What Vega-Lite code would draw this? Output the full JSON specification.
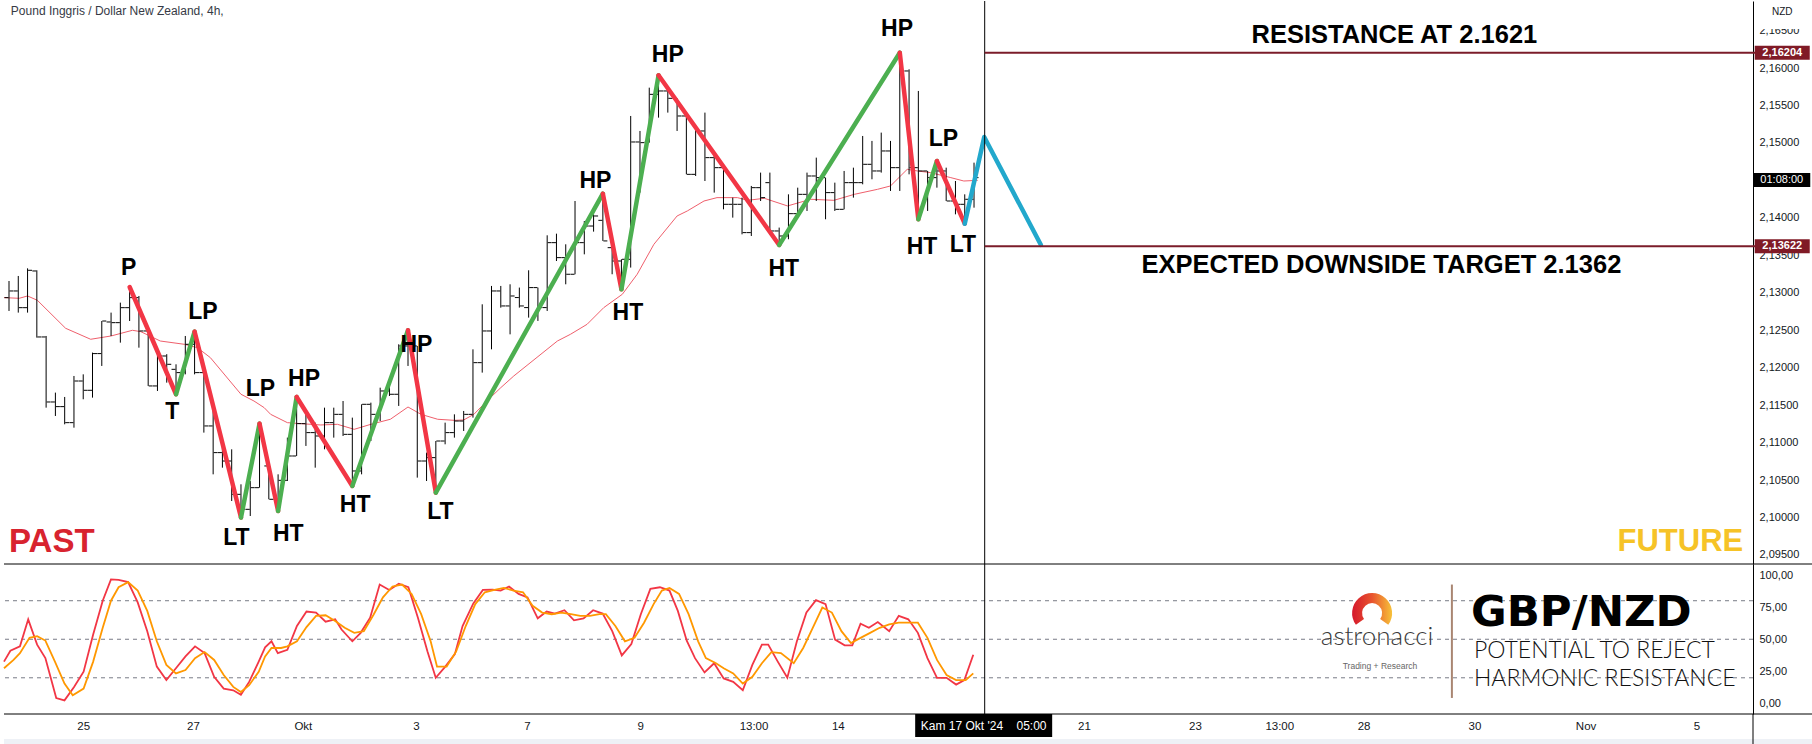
{
"$schema": "https://vega.github.io/schema/vega-lite/v6.json",
"background": "white",
"padding": 0,
"spacing": 0,
"bounds": "flush",
"config": {"view": {"stroke": null}, "font": "Liberation Sans"},
"datasets": {
"bars": [
{"i":0,"o":2.12935,"h":2.13157,"l":2.12757,"c":2.13024},
{"i":1,"o":2.13024,"h":2.13224,"l":2.12735,"c":2.12801},
{"i":2,"o":2.12801,"h":2.13326,"l":2.12735,"c":2.13300},
{"i":3,"o":2.13291,"h":2.13300,"l":2.12401,"c":2.12410},
{"i":4,"o":2.12410,"h":2.12423,"l":2.11466,"c":2.11542},
{"i":5,"o":2.11542,"h":2.11667,"l":2.11355,"c":2.11480},
{"i":6,"o":2.11480,"h":2.11609,"l":2.11244,"c":2.11266},
{"i":7,"o":2.11266,"h":2.11889,"l":2.11199,"c":2.11822},
{"i":8,"o":2.11822,"h":2.11911,"l":2.11578,"c":2.11698},
{"i":9,"o":2.11698,"h":2.12201,"l":2.11600,"c":2.12188},
{"i":10,"o":2.12188,"h":2.12623,"l":2.12023,"c":2.12623},
{"i":11,"o":2.12610,"h":2.12735,"l":2.12423,"c":2.12601},
{"i":12,"o":2.12601,"h":2.12868,"l":2.12334,"c":2.12801},
{"i":13,"o":2.12801,"h":2.13077,"l":2.12623,"c":2.12935},
{"i":14,"o":2.12935,"h":2.12957,"l":2.12267,"c":2.12490},
{"i":15,"o":2.12490,"h":2.12557,"l":2.11756,"c":2.11756},
{"i":16,"o":2.11756,"h":2.12179,"l":2.11689,"c":2.12156},
{"i":17,"o":2.12156,"h":2.12180,"l":2.11800,"c":2.12045},
{"i":18,"o":2.11978,"h":2.12045,"l":2.11645,"c":2.11934},
{"i":19,"o":2.11934,"h":2.12423,"l":2.11911,"c":2.12312},
{"i":20,"o":2.12312,"h":2.12481,"l":2.11911,"c":2.11934},
{"i":21,"o":2.11934,"h":2.11978,"l":2.11133,"c":2.11222},
{"i":22,"o":2.11222,"h":2.11422,"l":2.10576,"c":2.10866},
{"i":23,"o":2.10866,"h":2.11021,"l":2.10665,"c":2.10754},
{"i":24,"o":2.10754,"h":2.10910,"l":2.10220,"c":2.10309},
{"i":25,"o":2.10309,"h":2.10443,"l":2.10000,"c":2.10109},
{"i":26,"o":2.10109,"h":2.10487,"l":2.10020,"c":2.10398},
{"i":27,"o":2.10398,"h":2.11266,"l":2.10398,"c":2.11110},
{"i":28,"o":2.10688,"h":2.10710,"l":2.10243,"c":2.10243},
{"i":29,"o":2.10243,"h":2.10576,"l":2.10087,"c":2.10496},
{"i":30,"o":2.10496,"h":2.11066,"l":2.10487,"c":2.10821},
{"i":31,"o":2.10821,"h":2.11609,"l":2.10821,"c":2.11253},
{"i":32,"o":2.11253,"h":2.11444,"l":2.10955,"c":2.11133},
{"i":33,"o":2.11133,"h":2.11266,"l":2.10665,"c":2.11088},
{"i":34,"o":2.11088,"h":2.11466,"l":2.10910,"c":2.11266},
{"i":35,"o":2.11266,"h":2.11466,"l":2.11066,"c":2.11377},
{"i":36,"o":2.11377,"h":2.11555,"l":2.11088,"c":2.11110},
{"i":37,"o":2.11110,"h":2.11333,"l":2.10421,"c":2.10621},
{"i":38,"o":2.10621,"h":2.11511,"l":2.10576,"c":2.11511},
{"i":39,"o":2.11511,"h":2.11533,"l":2.11021,"c":2.11377},
{"i":40,"o":2.11377,"h":2.11733,"l":2.11288,"c":2.11689},
{"i":41,"o":2.11689,"h":2.11845,"l":2.11622,"c":2.11645},
{"i":42,"o":2.11645,"h":2.12312,"l":2.11489,"c":2.12290},
{"i":43,"o":2.12290,"h":2.12499,"l":2.12023,"c":2.12290},
{"i":44,"o":2.12290,"h":2.12290,"l":2.10532,"c":2.10754},
{"i":45,"o":2.10754,"h":2.10866,"l":2.10487,"c":2.10799},
{"i":46,"o":2.10799,"h":2.11021,"l":2.10332,"c":2.11021},
{"i":47,"o":2.11021,"h":2.11266,"l":2.10977,"c":2.11133},
{"i":48,"o":2.11133,"h":2.11377,"l":2.11066,"c":2.11288},
{"i":49,"o":2.11288,"h":2.11422,"l":2.11155,"c":2.11377},
{"i":50,"o":2.11377,"h":2.12245,"l":2.11333,"c":2.12067},
{"i":51,"o":2.12067,"h":2.12846,"l":2.11934,"c":2.12490},
{"i":52,"o":2.12490,"h":2.13091,"l":2.12245,"c":2.13024},
{"i":53,"o":2.13024,"h":2.13091,"l":2.12801,"c":2.12824},
{"i":54,"o":2.12824,"h":2.13113,"l":2.12445,"c":2.12957},
{"i":55,"o":2.12936,"h":2.13069,"l":2.12802,"c":2.12824},
{"i":56,"o":2.12802,"h":2.13300,"l":2.12668,"c":2.13069},
{"i":57,"o":2.13069,"h":2.13069,"l":2.12624,"c":2.12802},
{"i":58,"o":2.12802,"h":2.13767,"l":2.12757,"c":2.13669},
{"i":59,"o":2.13669,"h":2.13789,"l":2.13424,"c":2.13469},
{"i":60,"o":2.13469,"h":2.13647,"l":2.13113,"c":2.13247},
{"i":61,"o":2.13247,"h":2.14225,"l":2.13247,"c":2.13669},
{"i":62,"o":2.13669,"h":2.13958,"l":2.13513,"c":2.13891},
{"i":63,"o":2.13891,"h":2.14047,"l":2.13816,"c":2.14025},
{"i":64,"o":2.13967,"h":2.14323,"l":2.13692,"c":2.13692},
{"i":65,"o":2.13602,"h":2.13602,"l":2.13247,"c":2.13424},
{"i":66,"o":2.13424,"h":2.13447,"l":2.13047,"c":2.13447},
{"i":67,"o":2.13447,"h":2.15360,"l":2.13336,"c":2.15013},
{"i":68,"o":2.15013,"h":2.15160,"l":2.14337,"c":2.15004},
{"i":69,"o":2.15013,"h":2.15738,"l":2.15004,"c":2.15649},
{"i":70,"o":2.15649,"h":2.15903,"l":2.15338,"c":2.15694},
{"i":71,"o":2.15694,"h":2.15694,"l":2.15405,"c":2.15596},
{"i":72,"o":2.15596,"h":2.15596,"l":2.15160,"c":2.15360},
{"i":73,"o":2.15360,"h":2.15360,"l":2.14581,"c":2.14581},
{"i":74,"o":2.14581,"h":2.15182,"l":2.14559,"c":2.15160},
{"i":75,"o":2.15160,"h":2.15405,"l":2.14492,"c":2.14804},
{"i":76,"o":2.14804,"h":2.14893,"l":2.14337,"c":2.14670},
{"i":77,"o":2.14670,"h":2.14715,"l":2.14114,"c":2.14181},
{"i":78,"o":2.14181,"h":2.14270,"l":2.14003,"c":2.14181},
{"i":79,"o":2.14181,"h":2.14270,"l":2.13780,"c":2.13803},
{"i":80,"o":2.13803,"h":2.14426,"l":2.13758,"c":2.14403},
{"i":81,"o":2.14403,"h":2.14604,"l":2.14225,"c":2.14270},
{"i":82,"o":2.14470,"h":2.14604,"l":2.13781,"c":2.13825},
{"i":83,"o":2.13825,"h":2.13870,"l":2.13638,"c":2.13758},
{"i":84,"o":2.13758,"h":2.14314,"l":2.13714,"c":2.14056},
{"i":85,"o":2.14056,"h":2.14403,"l":2.14003,"c":2.14314},
{"i":86,"o":2.14314,"h":2.14604,"l":2.14092,"c":2.14559},
{"i":87,"o":2.14559,"h":2.14804,"l":2.14225,"c":2.14537},
{"i":88,"o":2.14537,"h":2.14537,"l":2.13981,"c":2.14337},
{"i":89,"o":2.14337,"h":2.14470,"l":2.14092,"c":2.14114},
{"i":90,"o":2.14114,"h":2.14626,"l":2.14114,"c":2.14470},
{"i":91,"o":2.14470,"h":2.14670,"l":2.14270,"c":2.14470},
{"i":92,"o":2.14470,"h":2.15093,"l":2.14448,"c":2.14715},
{"i":93,"o":2.14715,"h":2.15027,"l":2.14515,"c":2.14626},
{"i":94,"o":2.14626,"h":2.15138,"l":2.14604,"c":2.14893},
{"i":95,"o":2.14893,"h":2.15027,"l":2.14359,"c":2.14670},
{"i":96,"o":2.14670,"h":2.16205,"l":2.14359,"c":2.15961},
{"i":97,"o":2.15961,"h":2.15983,"l":2.14581,"c":2.14670},
{"i":98,"o":2.14670,"h":2.15694,"l":2.13981,"c":2.14626},
{"i":99,"o":2.14626,"h":2.14626,"l":2.14092,"c":2.14537},
{"i":100,"o":2.14537,"h":2.14759,"l":2.14403,"c":2.14626},
{"i":101,"o":2.14626,"h":2.14670,"l":2.14225,"c":2.14225},
{"i":102,"o":2.14225,"h":2.14492,"l":2.14047,"c":2.14181},
{"i":103,"o":2.14181,"h":2.14314,"l":2.13923,"c":2.14248},
{"i":104,"o":2.14248,"h":2.14737,"l":2.14136,"c":2.14537}
],
"ma": [
{"i":-0.54,"v":2.12935},{"i":1.1,"v":2.12926},{"i":2,"v":2.12957},{"i":3.05,"v":2.129},{"i":6.1,"v":2.12526},{"i":8.8,"v":2.12379},{"i":11,"v":2.12423},{"i":13.3,"v":2.12499},{"i":14.2,"v":2.12481},{"i":16.3,"v":2.12356},{"i":18.9,"v":2.12312},{"i":20.3,"v":2.12267},{"i":21.7,"v":2.12134},{"i":25,"v":2.11645},{"i":26.4,"v":2.11555},{"i":27.5,"v":2.11466},{"i":28.2,"v":2.11377},{"i":30,"v":2.11266},{"i":31.4,"v":2.11253},{"i":33.6,"v":2.11235},{"i":35.4,"v":2.11244},{"i":37.2,"v":2.11177},{"i":39,"v":2.11244},{"i":41.1,"v":2.11311},{"i":43,"v":2.11475},{"i":44.4,"v":2.11377},{"i":46.2,"v":2.11311},{"i":48,"v":2.11297},{"i":49,"v":2.11302},{"i":50.1,"v":2.11377},{"i":51.5,"v":2.11555},{"i":53,"v":2.11733},{"i":54.4,"v":2.11889},{"i":59.1,"v":2.12356},{"i":60.5,"v":2.12445},{"i":62.3,"v":2.12579},{"i":64.1,"v":2.12802},{"i":66.1,"v":2.1298},{"i":67.7,"v":2.13247},{"i":69.5,"v":2.13647},{"i":72,"v":2.14025},{"i":73.1,"v":2.14092},{"i":74.9,"v":2.14225},{"i":76.3,"v":2.1427},{"i":78.5,"v":2.1427},{"i":79.6,"v":2.14234},{"i":81.4,"v":2.14261},{"i":83.9,"v":2.14159},{"i":86.4,"v":2.14248},{"i":88.9,"v":2.14234},{"i":91.1,"v":2.14314},{"i":93.6,"v":2.14381},{"i":95,"v":2.14426},{"i":96.8,"v":2.14648},{"i":97.9,"v":2.14626},{"i":99.3,"v":2.14604},{"i":101.5,"v":2.14537},{"i":102.9,"v":2.14492},{"i":104.4,"v":2.14501}
],
"zz": [
{"s":1,"i":13,"p":2.13077,"d":"down"},{"s":1,"i":18,"p":2.11645,"d":"down"},
{"s":2,"i":18,"p":2.11645,"d":"up"},{"s":2,"i":20,"p":2.12481,"d":"up"},
{"s":3,"i":20,"p":2.12481,"d":"down"},{"s":3,"i":25,"p":2.10000,"d":"down"},
{"s":4,"i":25,"p":2.10000,"d":"up"},{"s":4,"i":27,"p":2.11253,"d":"up"},
{"s":5,"i":27,"p":2.11253,"d":"down"},{"s":5,"i":29,"p":2.10087,"d":"down"},
{"s":6,"i":29,"p":2.10087,"d":"up"},{"s":6,"i":31,"p":2.11609,"d":"up"},
{"s":7,"i":31,"p":2.11609,"d":"down"},{"s":7,"i":37,"p":2.10421,"d":"down"},
{"s":8,"i":37,"p":2.10421,"d":"up"},{"s":8,"i":43,"p":2.12499,"d":"up"},
{"s":9,"i":43,"p":2.12499,"d":"down"},{"s":9,"i":46,"p":2.10332,"d":"down"},
{"s":10,"i":46,"p":2.10332,"d":"up"},{"s":10,"i":64,"p":2.14323,"d":"up"},
{"s":11,"i":64,"p":2.14323,"d":"down"},{"s":11,"i":66,"p":2.13047,"d":"down"},
{"s":12,"i":66,"p":2.13047,"d":"up"},{"s":12,"i":70,"p":2.15903,"d":"up"},
{"s":13,"i":70,"p":2.15903,"d":"down"},{"s":13,"i":83,"p":2.13638,"d":"down"},
{"s":14,"i":83,"p":2.13638,"d":"up"},{"s":14,"i":96,"p":2.16205,"d":"up"},
{"s":15,"i":96,"p":2.16205,"d":"down"},{"s":15,"i":98,"p":2.13981,"d":"down"},
{"s":16,"i":98,"p":2.13981,"d":"up"},{"s":16,"i":100,"p":2.14759,"d":"up"},
{"s":17,"i":100,"p":2.14759,"d":"down"},{"s":17,"i":103,"p":2.13922,"d":"down"},
{"s":18,"i":103,"p":2.13922,"d":"proj"},{"s":18,"i":105.1,"p":2.15079,"d":"proj"},{"s":18,"i":111.2,"p":2.1364,"d":"proj"}
],
"lbl": [
{"i":12.9,"p":2.13331,"t":"P"},{"i":17.6,"p":2.11403,"t":"T"},{"i":20.9,"p":2.12745,"t":"LP"},{"i":24.5,"p":2.09721,"t":"LT"},{"i":27.1,"p":2.11711,"t":"LP"},{"i":30.1,"p":2.09784,"t":"HT"},{"i":31.8,"p":2.1185,"t":"HP"},{"i":37.3,"p":2.1017,"t":"HT"},{"i":43.9,"p":2.12297,"t":"HP"},{"i":46.5,"p":2.10076,"t":"LT"},{"i":63.2,"p":2.14488,"t":"HP"},{"i":66.7,"p":2.1273,"t":"HT"},{"i":71,"p":2.1617,"t":"HP"},{"i":83.5,"p":2.13317,"t":"HT"},{"i":95.7,"p":2.16525,"t":"HP"},{"i":98.4,"p":2.13608,"t":"HT"},{"i":100.7,"p":2.15059,"t":"LP"},{"i":102.8,"p":2.1364,"t":"LT"}
],
"k": [
{"i":-0.54,"v":32.6},{"i":0.15,"v":41.1},{"i":1.18,"v":44.5},{"i":2.07,"v":65.5},{"i":3.03,"v":45.8},{"i":3.92,"v":35.3},{"i":5.09,"v":4.2},{"i":5.98,"v":2.4},{"i":7.01,"v":12.9},{"i":8.04,"v":24.7},{"i":9.07,"v":53.7},{"i":10.1,"v":80},{"i":10.99,"v":96.6},{"i":11.81,"v":96.3},{"i":12.84,"v":94.5},{"i":13.87,"v":78.7},{"i":14.9,"v":56.3},{"i":15.93,"v":28.7},{"i":16.96,"v":18.2},{"i":17.99,"v":27.4},{"i":19.02,"v":36.6},{"i":20.05,"v":44.5},{"i":21.08,"v":39.2},{"i":22.11,"v":20.8},{"i":23.14,"v":11.6},{"i":24.17,"v":10.3},{"i":24.99,"v":6.8},{"i":25.88,"v":16.8},{"i":26.91,"v":32.6},{"i":27.6,"v":43.7},{"i":28.29,"v":48.4},{"i":28.97,"v":39.2},{"i":30,"v":41.8},{"i":31.03,"v":60.3},{"i":32.06,"v":71.6},{"i":33.09,"v":70.8},{"i":34.12,"v":63.7},{"i":35.15,"v":65.5},{"i":35.84,"v":57.6},{"i":37,"v":48.4},{"i":37.9,"v":55},{"i":38.92,"v":66.8},{"i":39.95,"v":92.6},{"i":40.98,"v":88.4},{"i":42.01,"v":93.2},{"i":43.04,"v":90.5},{"i":44.07,"v":66.8},{"i":45.1,"v":40.5},{"i":45.99,"v":20},{"i":47.02,"v":28.7},{"i":48.05,"v":38.4},{"i":48.88,"v":60.3},{"i":50.04,"v":77.9},{"i":51.07,"v":88.4},{"i":52.1,"v":88.7},{"i":52.99,"v":87.9},{"i":53.89,"v":91.1},{"i":54.92,"v":85.3},{"i":55.88,"v":82.6},{"i":56.98,"v":66.3},{"i":57.94,"v":71.6},{"i":58.83,"v":70},{"i":59.86,"v":72.6},{"i":60.89,"v":64.7},{"i":61.92,"v":66.3},{"i":62.95,"v":72.6},{"i":63.98,"v":70},{"i":65.01,"v":56.3},{"i":66.04,"v":37.4},{"i":67.07,"v":46.3},{"i":68.09,"v":69.5},{"i":69.12,"v":89.2},{"i":70.15,"v":90.5},{"i":71.18,"v":87.9},{"i":72.08,"v":72.1},{"i":73.04,"v":48.9},{"i":73.93,"v":35.3},{"i":74.96,"v":24.2},{"i":75.99,"v":31.3},{"i":77.02,"v":19.5},{"i":78.05,"v":16.8},{"i":79.08,"v":10.3},{"i":80.11,"v":30},{"i":81.14,"v":45.8},{"i":81.82,"v":45.8},{"i":82.85,"v":32.6},{"i":83.88,"v":20},{"i":84.91,"v":48.4},{"i":85.94,"v":70.8},{"i":86.97,"v":80.5},{"i":88,"v":77.4},{"i":89.03,"v":49.7},{"i":90.06,"v":45.3},{"i":90.88,"v":45.3},{"i":91.77,"v":62.1},{"i":92.67,"v":58.9},{"i":93.63,"v":63.4},{"i":94.86,"v":56.3},{"i":95.89,"v":68.2},{"i":96.92,"v":65.5},{"i":97.95,"v":55},{"i":98.98,"v":35.3},{"i":100.01,"v":20},{"i":101.04,"v":20},{"i":102.07,"v":14.7},{"i":102.96,"v":18.2},{"i":103.92,"v":37.9}
],
"d": [
{"i":-0.54,"v":27.4},{"i":0.49,"v":33.9},{"i":1.18,"v":39.2},{"i":2.21,"v":51.1},{"i":3.03,"v":52.4},{"i":3.92,"v":49},{"i":4.95,"v":32.6},{"i":5.98,"v":15.5},{"i":6.87,"v":6.3},{"i":8.04,"v":11.6},{"i":9.07,"v":32.6},{"i":10.1,"v":58.9},{"i":10.99,"v":80},{"i":11.81,"v":90.5},{"i":12.84,"v":94.5},{"i":13.87,"v":87.9},{"i":14.9,"v":72.1},{"i":15.93,"v":48.4},{"i":16.96,"v":30},{"i":17.99,"v":23.4},{"i":19.02,"v":26},{"i":20.05,"v":35.3},{"i":21.08,"v":40},{"i":22.11,"v":33.9},{"i":23.14,"v":22.1},{"i":24.17,"v":12.9},{"i":24.99,"v":8.9},{"i":25.88,"v":14.2},{"i":26.91,"v":24.7},{"i":27.6,"v":36.6},{"i":28.29,"v":43.2},{"i":29.32,"v":43.2},{"i":30,"v":44.5},{"i":31.03,"v":48.4},{"i":32.06,"v":59.5},{"i":33.09,"v":68.2},{"i":34.12,"v":68.7},{"i":35.15,"v":64.2},{"i":36.18,"v":58.9},{"i":37.21,"v":55},{"i":38.24,"v":56.3},{"i":39.27,"v":68.9},{"i":40.3,"v":82.6},{"i":41.33,"v":91.1},{"i":42.36,"v":92.6},{"i":43.39,"v":85.3},{"i":44.42,"v":69.5},{"i":45.44,"v":48.4},{"i":46.13,"v":28.7},{"i":47.16,"v":28.7},{"i":48.19,"v":40.5},{"i":49.22,"v":60.3},{"i":50.25,"v":77.4},{"i":51.28,"v":86.6},{"i":52.31,"v":88.4},{"i":53.34,"v":90},{"i":54.37,"v":87.9},{"i":55.4,"v":86.6},{"i":56.43,"v":76.1},{"i":57.46,"v":70.8},{"i":58.49,"v":69.5},{"i":59.52,"v":70.8},{"i":60.55,"v":69.5},{"i":61.57,"v":68.2},{"i":62.6,"v":68.2},{"i":63.63,"v":69.5},{"i":64.32,"v":69.5},{"i":65.35,"v":60.3},{"i":66.38,"v":48.4},{"i":67.41,"v":51.1},{"i":68.44,"v":62.9},{"i":69.47,"v":77.4},{"i":70.36,"v":87.9},{"i":71.18,"v":90},{"i":72.21,"v":85.3},{"i":73.24,"v":69.5},{"i":74.27,"v":48.4},{"i":75.1,"v":35.3},{"i":76.19,"v":31.3},{"i":77.02,"v":27.4},{"i":78.05,"v":23.4},{"i":79.08,"v":15.5},{"i":80.11,"v":20.8},{"i":81.14,"v":31.3},{"i":82.16,"v":40},{"i":83.19,"v":39.2},{"i":84.57,"v":31.3},{"i":85.59,"v":43.2},{"i":86.62,"v":58.9},{"i":87.65,"v":74.7},{"i":88.68,"v":70.8},{"i":89.71,"v":56.3},{"i":90.74,"v":47.1},{"i":91.77,"v":51.1},{"i":92.8,"v":55},{"i":93.83,"v":58.9},{"i":94.86,"v":61.6},{"i":95.89,"v":62.9},{"i":96.92,"v":62.9},{"i":97.95,"v":62.9},{"i":98.98,"v":51.1},{"i":100.01,"v":33.9},{"i":101.04,"v":22.1},{"i":102.07,"v":18.2},{"i":103.1,"v":18.2},{"i":103.92,"v":23.4}
],
"div": [{"i":105.15}],
"levels": [{"p":2.16204,"t":"2,16204"},{"p":2.13622,"t":"2,13622"}],
"cd": [{"p":2.14505,"t":"01:08:00"}],
"nzd": [{"p":2.16701,"tp":2.16748,"t":"NZD"}],
"sepTop": [{"p":2.09379}],
"sepBot": [{"v":-8.2}],
"osc": [{"v":20},{"v":50},{"v":80}],
"logo": [{"i":146.9,"v":70.4}],
"brand": [{"i":147.43,"v":51.5,"t":"astronacci"}],
"brand2": [{"i":147.75,"v":29.5,"t":"Trading + Research"}],
"vsep": [{"i":155.5,"a":4.3,"b":92.6}],
"pair": [{"i":157.56,"v":70.4,"t":"GBP/NZD"}],
"sub": [{"i":157.88,"v":40.8,"t":"POTENTIAL TO REJECT"},{"i":157.88,"v":19.0,"t":"HARMONIC RESISTANCE"}],
"title": [{"i":0.2,"p":2.16762,"t":"Pound Inggris / Dollar New Zealand, 4h,"}],
"notes": [{"i":149.3,"p":2.16444,"t":"RESISTANCE AT 2.1621"},{"i":147.9,"p":2.13367,"t":"EXPECTED DOWNSIDE TARGET 2.1362"}],
"past": [{"i":0.0,"p":2.09673,"t":"PAST"}],
"future": [{"i":186.9,"p":2.09673,"t":"FUTURE"}],
"tl": [{"i":8.05,"t":"25"},{"i":19.88,"t":"27"},{"i":31.72,"t":"Okt"},{"i":43.92,"t":"3"},{"i":55.88,"t":"7"},{"i":68.08,"t":"9"},{"i":80.29,"t":"13:00"},{"i":89.38,"t":"14"},{"i":115.9,"t":"21"},{"i":127.86,"t":"23"},{"i":136.95,"t":"13:00"},{"i":146.03,"t":"28"},{"i":157.99,"t":"30"},{"i":169.96,"t":"Nov"},{"i":181.9,"t":"5"}],
"ch": [{"i":105.04,"t":"Kam 17 Okt '24\u00a0\u00a0\u00a0\u00a005:00"}],
"strip": [{"a":0,"b":6}]
},
"vconcat": [
{
"width": 1749, "height": 563,
"resolve": {"axis": {"x": "independent", "y": "independent"}},
"layer": [
{"data": {"name": "ma"}, "mark": {"type": "line", "color": "#ef5f6c", "strokeWidth": 1},
 "encoding": {"x": {"field": "i", "type": "quantitative", "scale": {"domain": [-0.539, 187.95], "nice": false, "zero": false}, "axis": null},
  "y": {"field": "v", "type": "quantitative", "scale": {"domain": [2.09379, 2.16895], "nice": false, "zero": false},
   "axis": {"orient": "right", "values": [2.095,2.1,2.105,2.11,2.115,2.12,2.125,2.13,2.135,2.14,2.15,2.155,2.16,2.165], "labelExpr": "replace(format(datum.value, '.5f'), '.', ',')", "title": null, "ticks": false, "grid": false, "domain": true, "domainColor": "#000000", "domainWidth": 1, "labelFont": "Liberation Sans", "labelFontSize": 11, "labelColor": "#131722", "labelPadding": 6, "labelOverlap": false, "labelFlush": false, "labelBound": false}}}},
{"data": {"name": "bars"}, "mark": {"type": "rule", "color": "#000000", "strokeWidth": 1},
 "encoding": {"x": {"field": "i", "type": "quantitative", "axis": null}, "y": {"field": "l", "type": "quantitative", "axis": null}, "y2": {"field": "h"}}},
{"data": {"name": "bars"}, "mark": {"type": "tick", "orient": "horizontal", "size": 4, "thickness": 1, "xOffset": -2.5, "color": "#000000", "opacity": 1},
 "encoding": {"x": {"field": "i", "type": "quantitative", "axis": null}, "y": {"field": "o", "type": "quantitative", "axis": null}}},
{"data": {"name": "bars"}, "mark": {"type": "tick", "orient": "horizontal", "size": 4, "thickness": 1, "xOffset": 2.5, "color": "#000000", "opacity": 1},
 "encoding": {"x": {"field": "i", "type": "quantitative", "axis": null}, "y": {"field": "c", "type": "quantitative", "axis": null}}},
{"data": {"name": "zz"}, "mark": {"type": "line", "strokeWidth": 4.5, "strokeCap": "round", "strokeJoin": "round"},
 "encoding": {"x": {"field": "i", "type": "quantitative", "axis": null}, "y": {"field": "p", "type": "quantitative", "axis": null}, "detail": {"field": "s"},
  "color": {"field": "d", "type": "nominal", "scale": {"domain": ["down", "up", "proj"], "range": ["#f23645", "#4caf50", "#22a8cc"]}, "legend": null}}},
{"data": {"name": "div"}, "mark": {"type": "rule", "color": "#000000", "strokeWidth": 1},
 "encoding": {"x": {"field": "i", "type": "quantitative", "axis": null}}},
{"data": {"name": "levels"}, "mark": {"type": "rule", "color": "#7b1c2a", "strokeWidth": 2},
 "encoding": {"x": {"datum": 105.15, "axis": null}, "x2": {"datum": 188.4}, "y": {"field": "p", "type": "quantitative", "axis": null}}},
{"data": {"name": "sepTop"}, "mark": {"type": "rule", "color": "#000000", "strokeWidth": 1},
 "encoding": {"x": {"datum": -0.539, "axis": null}, "x2": {"datum": 194.8}, "y": {"field": "p", "type": "quantitative", "axis": null}}},
{"data": {"name": "lbl"}, "mark": {"type": "text", "font": "Liberation Sans", "fontWeight": "bold", "fontSize": 23, "color": "#000000", "align": "center", "baseline": "middle"},
 "encoding": {"x": {"field": "i", "type": "quantitative", "axis": null}, "y": {"field": "p", "type": "quantitative", "axis": null}, "text": {"field": "t"}}},
{"data": {"name": "title"}, "mark": {"type": "text", "font": "Liberation Sans", "fontSize": 12, "color": "#363a45", "align": "left", "baseline": "middle"},
 "encoding": {"x": {"field": "i", "type": "quantitative", "axis": null}, "y": {"field": "p", "type": "quantitative", "axis": null}, "text": {"field": "t"}}},
{"data": {"name": "notes"}, "mark": {"type": "text", "font": "Liberation Sans", "fontWeight": "bold", "fontSize": 25.5, "color": "#000000", "align": "center", "baseline": "middle"},
 "encoding": {"x": {"field": "i", "type": "quantitative", "axis": null}, "y": {"field": "p", "type": "quantitative", "axis": null}, "text": {"field": "t"}}},
{"data": {"name": "past"}, "mark": {"type": "text", "font": "Liberation Sans", "fontWeight": "bold", "fontSize": 33, "color": "#d8232f", "align": "left", "baseline": "middle"},
 "encoding": {"x": {"field": "i", "type": "quantitative", "axis": null}, "y": {"field": "p", "type": "quantitative", "axis": null}, "text": {"field": "t"}}},
{"data": {"name": "future"}, "mark": {"type": "text", "font": "Liberation Sans", "fontWeight": "bold", "fontSize": 31, "color": "#f6c327", "align": "right", "baseline": "middle"},
 "encoding": {"x": {"field": "i", "type": "quantitative", "axis": null}, "y": {"field": "p", "type": "quantitative", "axis": null}, "text": {"field": "t"}}},
{"data": {"name": "levels"}, "mark": {"type": "point", "shape": "M-1,-0.2545H1V0.2545H-1Z", "size": 3025, "filled": true, "color": "#801a26", "opacity": 1, "strokeWidth": 0},
 "encoding": {"x": {"datum": 191.1, "axis": null}, "y": {"field": "p", "type": "quantitative", "axis": null}}},
{"data": {"name": "levels"}, "mark": {"type": "text", "font": "Liberation Sans", "fontWeight": "bold", "fontSize": 11, "color": "#ffffff", "align": "center", "baseline": "middle"},
 "encoding": {"x": {"datum": 191.1, "axis": null}, "y": {"field": "p", "type": "quantitative", "axis": null}, "text": {"field": "t"}}},
{"data": {"name": "cd"}, "mark": {"type": "point", "shape": "M-1,-0.2456H1V0.2456H-1Z", "size": 3249, "filled": true, "color": "#000000", "opacity": 1, "strokeWidth": 0},
 "encoding": {"x": {"datum": 191.05, "axis": null}, "y": {"field": "p", "type": "quantitative", "axis": null}}},
{"data": {"name": "cd"}, "mark": {"type": "text", "font": "Liberation Sans", "fontSize": 11, "color": "#ffffff", "align": "center", "baseline": "middle"},
 "encoding": {"x": {"datum": 191.05, "axis": null}, "y": {"field": "p", "type": "quantitative", "axis": null}, "text": {"field": "t"}}},
{"data": {"name": "nzd"}, "mark": {"type": "point", "shape": "M-1,-0.54H1V0.54H-1Z", "size": 2500, "filled": true, "color": "#ffffff", "opacity": 1, "strokeWidth": 0},
 "encoding": {"x": {"datum": 191.1, "axis": null}, "y": {"field": "p", "type": "quantitative", "axis": null}}},
{"data": {"name": "nzd"}, "mark": {"type": "text", "font": "Liberation Sans", "fontSize": 10, "color": "#131722", "align": "center", "baseline": "middle"},
 "encoding": {"x": {"datum": 191.1, "axis": null}, "y": {"field": "tp", "type": "quantitative", "axis": null}, "text": {"field": "t"}}}
]
},
{
"width": 1749, "height": 150,
"resolve": {"axis": {"x": "independent", "y": "independent"}},
"layer": [
{"data": {"name": "osc"}, "mark": {"type": "rule", "color": "#787b86", "strokeWidth": 1, "strokeDash": [4, 4]},
 "encoding": {"y": {"field": "v", "type": "quantitative", "scale": {"domain": [-8.2, 108.6], "nice": false, "zero": false},
  "axis": {"orient": "right", "values": [0, 25, 50, 75, 100], "labelExpr": "replace(format(datum.value, '.2f'), '.', ',')", "title": null, "ticks": false, "grid": false, "domain": true, "domainColor": "#000000", "domainWidth": 1, "labelFont": "Liberation Sans", "labelFontSize": 11, "labelColor": "#131722", "labelPadding": 6, "labelOverlap": false, "labelFlush": false, "labelBound": false}}}},
{"data": {"name": "k"}, "mark": {"type": "line", "color": "#f23645", "strokeWidth": 1.8},
 "encoding": {"x": {"field": "i", "type": "quantitative", "scale": {"domain": [-0.539, 187.95], "nice": false, "zero": false}, "axis": null}, "y": {"field": "v", "type": "quantitative", "axis": null}}},
{"data": {"name": "d"}, "mark": {"type": "line", "color": "#ff9800", "strokeWidth": 1.8},
 "encoding": {"x": {"field": "i", "type": "quantitative", "axis": null}, "y": {"field": "v", "type": "quantitative", "axis": null}}},
{"data": {"name": "div"}, "mark": {"type": "rule", "color": "#000000", "strokeWidth": 1},
 "encoding": {"x": {"field": "i", "type": "quantitative", "axis": null}}},
{"data": {"name": "sepBot"}, "mark": {"type": "rule", "color": "#000000", "strokeWidth": 1},
 "encoding": {"x": {"datum": -0.539, "axis": null}, "x2": {"datum": 194.8}, "y": {"field": "v", "type": "quantitative", "axis": null}}},
{"data": {"name": "logo"}, "mark": {"type": "arc", "theta": -2.2, "theta2": 2.2, "innerRadius": 10, "outerRadius": 20,
  "fill": {"gradient": "linear", "x1": 0, "y1": 0, "x2": 1, "y2": 0, "stops": [{"offset": 0, "color": "#d5182c"}, {"offset": 0.5, "color": "#e8542e"}, {"offset": 1, "color": "#f7c23a"}]}},
 "encoding": {"x": {"field": "i", "type": "quantitative", "axis": null}, "y": {"field": "v", "type": "quantitative", "axis": null}}},
{"data": {"name": "brand"}, "mark": {"type": "text", "font": "Lato", "fontWeight": 300, "fontSize": 26, "color": "#3a3a3a", "align": "center", "baseline": "middle"},
 "encoding": {"x": {"field": "i", "type": "quantitative", "axis": null}, "y": {"field": "v", "type": "quantitative", "axis": null}, "text": {"field": "t"}}},
{"data": {"name": "brand2"}, "mark": {"type": "text", "font": "Liberation Sans", "fontSize": 8.5, "color": "#666666", "align": "center", "baseline": "middle"},
 "encoding": {"x": {"field": "i", "type": "quantitative", "axis": null}, "y": {"field": "v", "type": "quantitative", "axis": null}, "text": {"field": "t"}}},
{"data": {"name": "vsep"}, "mark": {"type": "rule", "color": "#a98672", "strokeWidth": 2},
 "encoding": {"x": {"field": "i", "type": "quantitative", "axis": null}, "y": {"field": "a", "type": "quantitative", "axis": null}, "y2": {"field": "b"}}},
{"data": {"name": "pair"}, "mark": {"type": "text", "font": "DejaVu Sans", "fontWeight": "bold", "fontSize": 43.5, "color": "#000000", "align": "left", "baseline": "middle"},
 "encoding": {"x": {"field": "i", "type": "quantitative", "axis": null}, "y": {"field": "v", "type": "quantitative", "axis": null}, "text": {"field": "t"}}},
{"data": {"name": "sub"}, "mark": {"type": "text", "font": "Lato", "fontWeight": 300, "fontSize": 23, "color": "#111111", "align": "left", "baseline": "middle"},
 "encoding": {"x": {"field": "i", "type": "quantitative", "axis": null}, "y": {"field": "v", "type": "quantitative", "axis": null}, "text": {"field": "t"}}}
]
},
{
"width": 1749, "height": 31,
"layer": [
{"data": {"name": "strip"}, "mark": {"type": "rect", "color": "#eef1f6"},
 "encoding": {"x": {"datum": -0.539, "scale": {"domain": [-0.539, 187.95], "nice": false, "zero": false}, "axis": null}, "x2": {"datum": 194.8},
  "y": {"field": "a", "type": "quantitative", "scale": {"domain": [0, 31], "nice": false, "zero": false}, "axis": null}, "y2": {"field": "b"}}},
{"data": {"name": "tl"}, "mark": {"type": "text", "font": "Liberation Sans", "fontSize": 11.5, "color": "#131722", "align": "center", "baseline": "middle"},
 "encoding": {"x": {"field": "i", "type": "quantitative"}, "y": {"datum": 18}, "text": {"field": "t"}}},
{"data": {"name": "ch"}, "mark": {"type": "point", "shape": "M-1,-0.168H1V0.168H-1Z", "size": 18769, "filled": true, "color": "#000000", "opacity": 1, "strokeWidth": 0},
 "encoding": {"x": {"field": "i", "type": "quantitative"}, "y": {"datum": 19.5}}},
{"data": {"name": "ch"}, "mark": {"type": "text", "font": "Liberation Sans", "fontSize": 12, "color": "#ffffff", "align": "center", "baseline": "middle"},
 "encoding": {"x": {"field": "i", "type": "quantitative"}, "y": {"datum": 19.5}, "text": {"field": "t"}}},
{"data": {"name": "div"}, "mark": {"type": "rule", "color": "#000000", "strokeWidth": 1},
 "encoding": {"x": {"datum": 187.95}, "y": {"datum": 0}, "y2": {"datum": 31}}}
]
}
]
}
